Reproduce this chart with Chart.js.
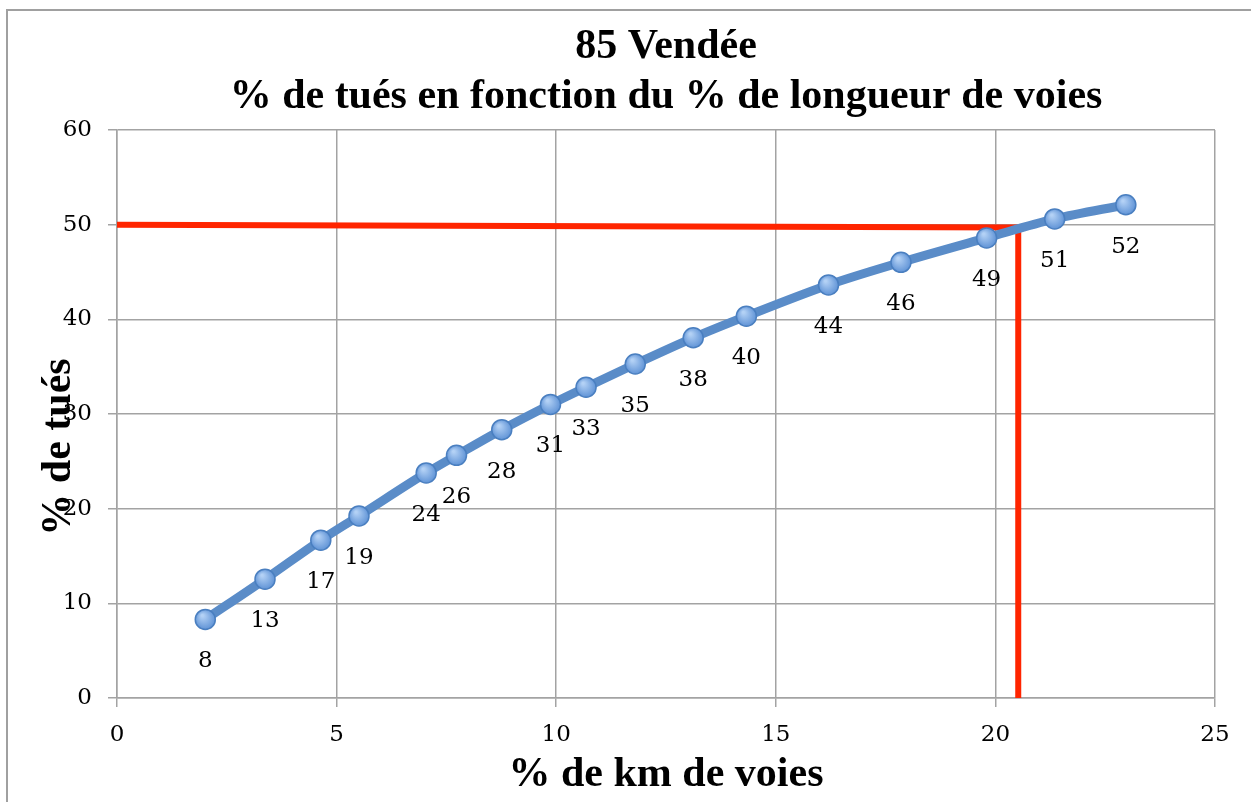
<!DOCTYPE html>
<html lang="fr">
<head>
  <meta charset="UTF-8">
  <title>85 Vendée</title>
  <script src="https://cdn.jsdelivr.net/npm/chart.js"></script>
  <style>
    html, body { margin: 0; padding: 0; background: #fff; }
    .wrap { width: 1251px; height: 802px; }
  </style>
</head>
<body>
  <div class="wrap"><canvas id="chart"></canvas></div>

  <script>
    // % de km de voies (x) et % de tués (y)
    const kmVoies = [2.01, 3.37, 4.64, 5.51, 7.04, 7.73, 8.76, 9.87, 10.68, 11.80, 13.12, 14.33, 16.20, 17.85, 19.80, 21.35, 22.97];
    const tues = [8.3, 12.55, 16.67, 19.23, 23.77, 25.63, 28.34, 31.01, 32.83, 35.28, 38.05, 40.33, 43.63, 46.02, 48.6, 50.6, 52.1];

    // repère rouge : 50 % des tués
    const repereX = [0, 20.52, 20.52];
    const repereY = [50, 49.7, 0];

    const serif = "'DejaVu Serif', serif";
    const titleFont = "'Liberation Serif', 'Times New Roman', serif";

    // étiquettes sous chaque point
    const pointLabels = {
      id: 'pointLabels',
      afterDatasetsDraw(chart) {
        const ctx = chart.ctx;
        const meta = chart.getDatasetMeta(1);
        ctx.save();
        ctx.font = '23px ' + serif;
        ctx.fillStyle = '#000';
        ctx.textAlign = 'center';
        ctx.textBaseline = 'middle';
        meta.data.forEach((pt, i) => {
          ctx.fillText(String(Math.round(tues[i])), pt.x, pt.y + 42);
        });
        ctx.restore();
      }
    };

    // cadre + titre de l'axe vertical
    const decor = {
      id: 'decor',
      beforeDraw(chart) {
        const ctx = chart.ctx;
        ctx.save();
        ctx.strokeStyle = '#a0a0a0';
        ctx.lineWidth = 2;
        ctx.strokeRect(7, 10, 1400, 1000);
        ctx.restore();
      },
      afterDraw(chart) {
        const ctx = chart.ctx;
        ctx.save();
        ctx.translate(59, 447);
        ctx.rotate(-Math.PI / 2);
        ctx.font = 'bold 42px ' + titleFont;
        ctx.fillStyle = '#000';
        ctx.textAlign = 'center';
        ctx.textBaseline = 'middle';
        ctx.fillText('% de tués', 0, 0);
        ctx.restore();
      }
    };

    const gridColor = '#a3a3a3';

    function pointFill(c) {
      if (c.type !== 'data') return '#7aa8e0';
      const ch = c.chart;
      const px = ch.scales.x ? ch.scales.x.getPixelForValue(c.parsed.x) : NaN;
      const py = ch.scales.y ? ch.scales.y.getPixelForValue(c.parsed.y) : NaN;
      if (!isFinite(px) || !isFinite(py)) return '#7aa8e0';
      const g = ch.ctx.createRadialGradient(px - 3, py - 4, 1, px, py, 11);
      g.addColorStop(0, '#b3d1f5');
      g.addColorStop(1, '#5a8fd4');
      return g;
    }

    new Chart(document.getElementById('chart'), {
      type: 'line',
      data: {
        datasets: [
          {
            label: 'repère',
            data: repereX.map((x, i) => ({ x: x, y: repereY[i] })),
            borderColor: '#ff2500',
            borderWidth: 6,
            pointRadius: 0,
            tension: 0,
            order: 2
          },
          {
            label: '% de tués',
            data: kmVoies.map((x, i) => ({ x: x, y: tues[i] })),
            borderColor: '#5a8cc8',
            borderWidth: 9,
            cubicInterpolationMode: 'monotone',
            pointRadius: 10,
            pointBorderWidth: 1.5,
            pointBorderColor: '#4a7fc0',
            pointBackgroundColor: pointFill,
            order: 1
          }
        ]
      },
      options: {
        responsive: true,
        maintainAspectRatio: false,
        animation: false,
        layout: { padding: { left: 0, right: 36, top: 0, bottom: 0 } },
        plugins: {
          legend: { display: false },
          tooltip: { enabled: false },
          title: {
            display: true,
            fullSize: false,
            text: ['85 Vendée', '% de tués en fonction du % de longueur de voies'],
            color: '#000',
            font: { family: titleFont, size: 42, weight: 'bold', lineHeight: 1.19 },
            padding: { top: 22, bottom: 8 }
          }
        },
        scales: {
          x: {
            type: 'linear',
            min: 0,
            max: 25,
            afterFit: s => { s.height = 104; },
            ticks: {
              stepSize: 5,
              color: '#000',
              font: { family: serif, size: 23 },
              padding: 14
            },
            grid: { color: gridColor, lineWidth: 1.5, tickLength: 9 },
            border: { color: gridColor, width: 1.5 },
            title: {
              display: true,
              text: '% de km de voies',
              color: '#000',
              font: { family: titleFont, size: 42, weight: 'bold' },
              padding: { top: 0, bottom: 2 }
            }
          },
          y: {
            min: 0,
            max: 60,
            afterFit: s => { s.width = 117; },
            ticks: {
              stepSize: 10,
              color: '#000',
              font: { family: serif, size: 23 },
              padding: 16
            },
            grid: { color: gridColor, lineWidth: 1.5, tickLength: 9 },
            border: { color: gridColor, width: 1.5 }
          }
        }
      },
      plugins: [decor, pointLabels]
    });
  </script>
</body>
</html>
